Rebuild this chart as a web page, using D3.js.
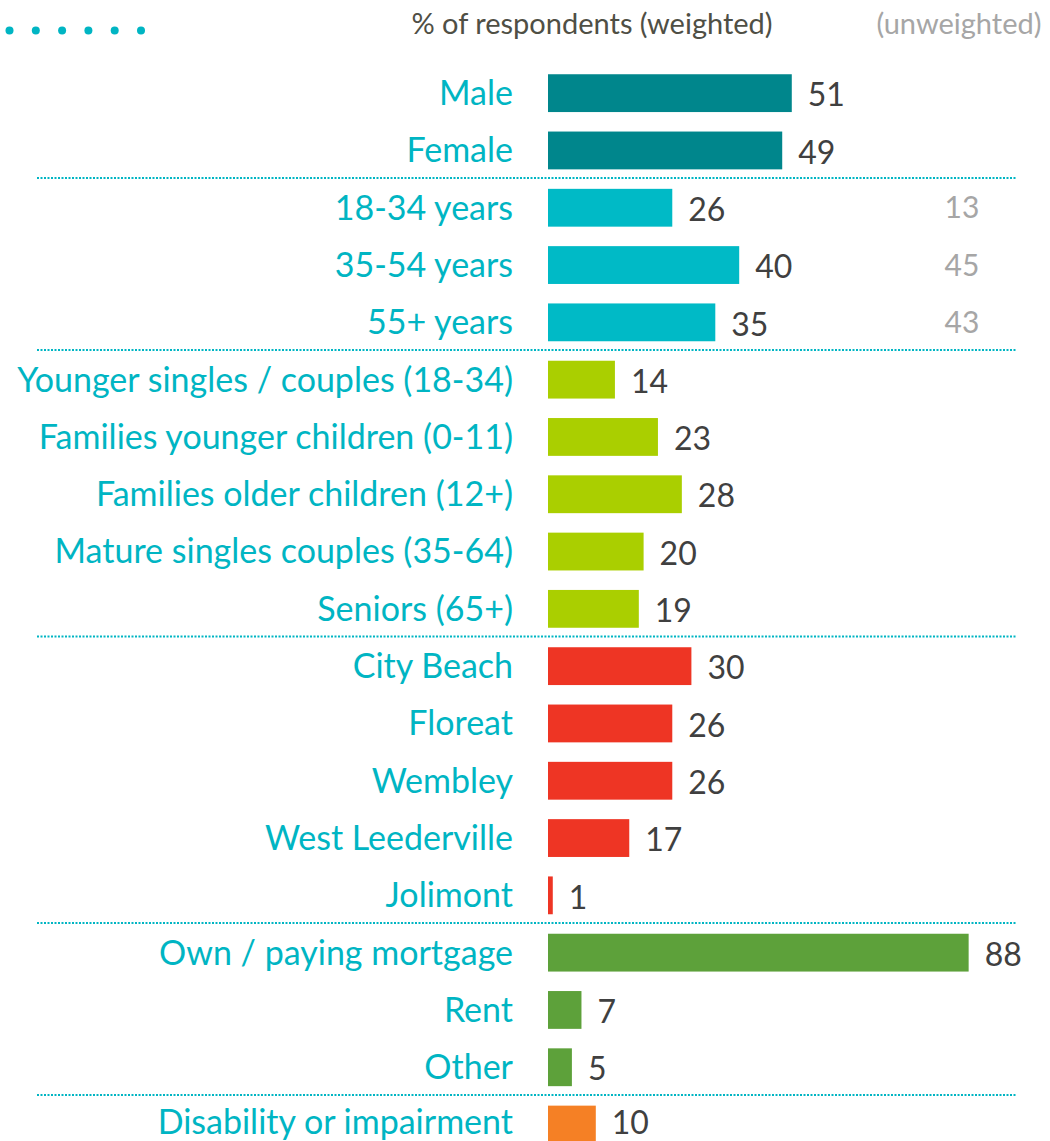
<!DOCTYPE html>
<html>
<head>
<meta charset="utf-8">
<script src="https://cdn.jsdelivr.net/npm/d3@7"></script>
<style>
  body { margin: 0; background: #fff; }
  svg { display: block; font-family: Lato, "Open Sans", sans-serif; }
</style>
</head>
<body>
<svg id="chart"></svg>
<script>
const categories = [
    "Male", "Female",
    "18-34 years", "35-54 years", "55+ years",
    "Younger singles / couples (18-34)", "Families younger children (0-11)",
    "Families older children (12+)", "Mature singles couples (35-64)", "Seniors (65+)",
    "City Beach", "Floreat", "Wembley", "West Leederville", "Jolimont",
    "Own / paying mortgage", "Rent", "Other",
    "Disability or impairment"
];
const weighted = [51, 49, 26, 40, 35, 14, 23, 28, 20, 19, 30, 26, 26, 17, 1, 88, 7, 5, 10];
const groups = [
    "gender", "gender",
    "age", "age", "age",
    "life", "life", "life", "life", "life",
    "suburb", "suburb", "suburb", "suburb", "suburb",
    "housing", "housing", "housing",
    "disability"
];
const groupNames = ["gender", "age", "life", "suburb", "housing", "disability"];
const groupColors = ["#00868C", "#00BAC6", "#AACF00", "#EE3524", "#5DA13A", "#F58025"];
const unweightedCats = ["18-34 years", "35-54 years", "55+ years"];
const unweightedValues = [13, 45, 43];

const width = 1050, height = 1141;
const labelColor = "#00B5C3";

const svg = d3.select("#chart").attr("width", width).attr("height", height);

const x = d3.scaleLinear().domain([0, 100]).range([548, 548 + 478]);
const y = d3.scaleBand().domain(categories).range([64.5, 64.5 + 19 * 57.3])
    .paddingInner(0.34).paddingOuter(0.17);
const color = d3.scaleOrdinal().domain(groupNames).range(groupColors);

const rows = categories.map((c, i) => ({cat: c, value: weighted[i], group: groups[i]}));

// header dots
svg.append("g").selectAll("circle")
    .data(d3.range(6))
    .join("circle")
    .attr("cx", i => 9.5 + i * 26.3)
    .attr("cy", 30.5)
    .attr("r", 4)
    .attr("fill", labelColor);

svg.append("text")
    .attr("x", 592).attr("y", 34)
    .attr("text-anchor", "middle")
    .attr("font-size", 29)
    .attr("fill", "#4F4F45")
    .text("% of respondents (weighted)");

svg.append("text")
    .attr("x", 959).attr("y", 34)
    .attr("text-anchor", "middle")
    .attr("font-size", 29)
    .attr("fill", "#A6A6A6")
    .text("(unweighted)");

// separators between groups
const seps = [];
for (let i = 1; i < rows.length; i++) {
    if (rows[i].group !== rows[i - 1].group) {
        seps.push((y(rows[i - 1].cat) + y.bandwidth() + y(rows[i].cat)) / 2 - 1);
    }
}
svg.append("g").selectAll("line")
    .data(seps)
    .join("line")
    .attr("x1", 37).attr("x2", 1016)
    .attr("y1", d => d).attr("y2", d => d)
    .attr("stroke", labelColor)
    .attr("stroke-width", 2)
    .attr("stroke-dasharray", "2,1.5");

// bars
svg.append("g").selectAll("rect")
    .data(rows)
    .join("rect")
    .attr("x", x(0))
    .attr("y", d => y(d.cat))
    .attr("width", d => x(d.value) - x(0))
    .attr("height", y.bandwidth())
    .attr("fill", d => color(d.group));

// category labels
const catLabels = svg.append("g").selectAll("text")
    .data(rows)
    .join("text")
    .attr("x", 513)
    .attr("y", d => y(d.cat) + y.bandwidth() / 2)
    .attr("dy", "0.35em")
    .attr("text-anchor", "end")
    .attr("font-size", 34)
    .attr("fill", labelColor)
    .text(d => d.cat);

// value labels
const valLabels = svg.append("g").selectAll("text")
    .data(rows)
    .join("text")
    .attr("x", d => x(d.value) + 16)
    .attr("y", d => y(d.cat) + y.bandwidth() / 2 + 2)
    .attr("dy", "0.35em")
    .attr("font-size", 32)
    .attr("fill", "#404040")
    .text(d => d.value);

// keep the last row's texts inside the picture
[catLabels, valLabels].forEach(sel => {
    sel.each(function () {
        const b = this.getBBox();
        if (b.y + b.height > height) {
            d3.select(this).attr("y", +d3.select(this).attr("y") - (b.y + b.height - height));
        }
    });
});

// unweighted values
svg.append("g").selectAll("text")
    .data(unweightedCats)
    .join("text")
    .attr("x", 962)
    .attr("y", d => y(d) + y.bandwidth() / 2)
    .attr("dy", "0.35em")
    .attr("text-anchor", "middle")
    .attr("font-size", 30)
    .attr("fill", "#A6A6A6")
    .text((d, i) => unweightedValues[i]);
</script>
</body>
</html>
